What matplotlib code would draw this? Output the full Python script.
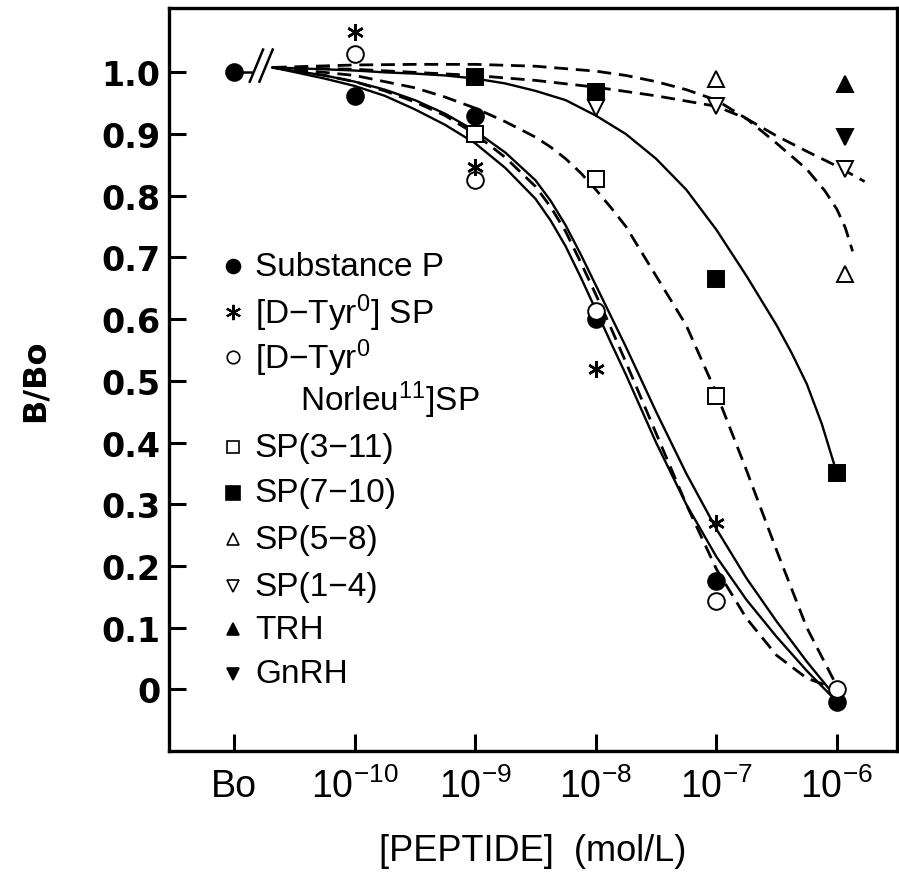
import numpy as np
import matplotlib
matplotlib.use('Agg')
import matplotlib.pyplot as plt

plt.rcParams['font.family'] = ['Liberation Sans', 'DejaVu Sans']
plt.rcParams['mathtext.fontset'] = 'custom'
plt.rcParams['mathtext.rm'] = 'Liberation Sans'
plt.rcParams['mathtext.it'] = 'Liberation Sans:italic'
plt.rcParams['mathtext.bf'] = 'Liberation Sans:bold'

# concentrations as log10(mol/L); Bo is drawn one decade below 1e-10
bo_exp = -11
tick_exp = [-11, -10, -9, -8, -7, -6]
tick_labels = ['Bo', '$10^{-10}$', '$10^{-9}$', '$10^{-8}$', '$10^{-7}$', '$10^{-6}$']
yticks = [0, 0.1, 0.2, 0.3, 0.4, 0.5, 0.6, 0.7, 0.8, 0.9, 1.0]
ytick_labels = ['0', '0.1', '0.2', '0.3', '0.4', '0.5', '0.6', '0.7', '0.8', '0.9', '1.0']

# measured points
sp_x = [-11, -10, -9, -8, -7, -6]
sp_y = [1.0, 0.961, 0.929, 0.600, 0.175, -0.020]
dtyr_x = [-10, -9, -8, -7]
dtyr_y = [1.065, 0.846, 0.520, 0.270]
norleu_x = [-10, -9, -8, -7, -6]
norleu_y = [1.029, 0.826, 0.613, 0.143, 0.000]
sp311_x = [-9, -8, -7]
sp311_y = [0.900, 0.827, 0.475]
sp710_x = [-9, -8, -7, -6]
sp710_y = [0.992, 0.969, 0.665, 0.350]
sp58_x = [-7, -5.93]
sp58_y = [0.989, 0.673]
sp14_x = [-8, -7, -5.93]
sp14_y = [0.943, 0.945, 0.843]
trh_x = [-5.93]
trh_y = [0.981]
gnrh_x = [-5.93]
gnrh_y = [0.895]

# fitted curves
cx = [-10.68, -10.25, -10.0, -9.75, -9.5, -9.25, -9.0, -8.75, -8.5, -8.375, -8.25,
      -8.125, -8.0, -7.875, -7.75, -7.5, -7.25, -7.0, -6.75, -6.5, -6.25, -6.0]
fit_sp = [1.008, 0.990, 0.978, 0.962, 0.940, 0.915, 0.885, 0.845, 0.795, 0.760, 0.718,
          0.668, 0.615, 0.562, 0.510, 0.400, 0.300, 0.215, 0.145, 0.085, 0.030, -0.020]
fit_dtyr = [1.008, 0.995, 0.985, 0.972, 0.955, 0.933, 0.905, 0.870, 0.825, 0.792, 0.752,
            0.705, 0.655, 0.605, 0.555, 0.450, 0.350, 0.260, 0.180, 0.110, 0.045, -0.015]
fit_norleu = [1.008, 0.995, 0.985, 0.970, 0.952, 0.930, 0.900, 0.862, 0.815, 0.782, 0.742,
              0.692, 0.640, 0.586, 0.530, 0.415, 0.300, 0.195, 0.115, 0.055, 0.018, 0.000]
fit_sp311 = [1.008, 1.000, 0.995, 0.985, 0.975, 0.960, 0.942, 0.920, 0.895, 0.879, 0.860,
             0.837, 0.810, 0.781, 0.750, 0.670, 0.590, 0.480, 0.355, 0.225, 0.100, 0.005]
cx710 = [-10.68, -10.25, -10.0, -9.75, -9.5, -9.25, -9.0, -8.75, -8.5, -8.25, -8.0,
         -7.75, -7.5, -7.25, -7.0, -6.75, -6.5, -6.375, -6.25, -6.125, -6.0]
fit_sp710 = [1.008, 1.005, 1.003, 1.000, 0.998, 0.995, 0.990, 0.982, 0.970, 0.955, 0.930,
             0.900, 0.860, 0.810, 0.745, 0.670, 0.590, 0.545, 0.495, 0.430, 0.350]
cx58 = [-10.68, -10.0, -9.5, -9.0, -8.5, -8.0, -7.75, -7.5, -7.25, -7.0, -6.75,
        -6.5, -6.25, -6.1, -6.0, -5.93, -5.87]
fit_sp58 = [1.008, 1.012, 1.013, 1.013, 1.010, 1.002, 0.995, 0.985, 0.972, 0.955,
            0.925, 0.885, 0.843, 0.808, 0.778, 0.748, 0.710]
cx14 = [-10.68, -10.0, -9.5, -9.0, -8.5, -8.0, -7.5, -7.0, -6.75, -6.5, -6.25,
        -6.0, -5.77]
fit_sp14 = [1.008, 1.005, 1.000, 0.995, 0.987, 0.976, 0.962, 0.945, 0.925, 0.897,
            0.872, 0.848, 0.823]

legend_rows = [0.686, 0.611, 0.538, 0.470, 0.392, 0.319, 0.243, 0.167, 0.097, 0.025]


def c(e):
    return 10.0 ** np.asarray(e, dtype=float)


fig = plt.figure(figsize=(8.99, 8.78), dpi=100)
ax = fig.add_axes([0.188, 0.1435, 0.81, 0.846])
ax.set_xscale('log')
ax.set_xlim(10 ** -11.54, 10 ** -5.50)
ax.set_ylim(-0.10, 1.104)

lw = 1.7
dash = (5, 2.8)
ax.plot(c(cx), fit_sp, 'k-', lw=lw)
ax.plot(c(cx), fit_dtyr, 'k-', lw=lw)
ax.plot(c(cx), fit_norleu, 'k--', lw=lw + 0.3, dashes=dash)
ax.plot(c(cx), fit_sp311, 'k--', lw=lw + 0.3, dashes=dash)
ax.plot(c(cx710), fit_sp710, 'k-', lw=lw)
ax.plot(c(cx58), fit_sp58, 'k--', lw=lw + 0.3, dashes=dash)
ax.plot(c(cx14), fit_sp14, 'k--', lw=lw + 0.3, dashes=dash)

# axis break between Bo and the dose range
ax.plot(c([bo_exp, -10.86]), [1.0, 1.0], 'k-', lw=1.8)
for x0 in (-10.87, -10.79):
    ax.plot(c([x0, x0 + 0.11]), [0.985, 1.037], 'k-', lw=1.8)

ms = 12
mew = 1.4
ax.plot(c(sp_x), sp_y, 'o', ms=ms, mfc='k', mec='k', mew=mew, ls='none', zorder=5)
ax.plot(c(norleu_x), norleu_y, 'o', ms=ms, mfc='white', mec='k', mew=mew, ls='none', zorder=5)
ax.plot(c(dtyr_x), dtyr_y, marker=(6, 2, 0), ms=ms, mec='k', mew=1.8, ls='none', zorder=6)
ax.plot(c(sp311_x), sp311_y, 's', ms=ms, mfc='white', mec='k', mew=mew, ls='none', zorder=5)
ax.plot(c(sp710_x), sp710_y, 's', ms=ms, mfc='k', mec='k', mew=mew, ls='none', zorder=5)
ax.plot(c(sp58_x), sp58_y, '^', ms=ms, mfc='white', mec='k', mew=mew, ls='none', zorder=5)
ax.plot(c(sp14_x), sp14_y, 'v', ms=ms, mfc='white', mec='k', mew=mew, ls='none', zorder=5)
ax.plot(c(trh_x), trh_y, '^', ms=ms, mfc='k', mec='k', mew=mew, ls='none', zorder=5)
ax.plot(c(gnrh_x), gnrh_y, 'v', ms=ms, mfc='k', mec='k', mew=mew, ls='none', zorder=5)

# hand-made legend
tr = ax.get_yaxis_transform()
mx = 0.088
tx = 0.118
fs = 24
leg_markers = [dict(marker='o', mfc='k', ms=10),
               dict(marker=(6, 2, 0), mfc='k', ms=11, mew=1.6),
               dict(marker='o', mfc='white', ms=9),
               None,
               dict(marker='s', mfc='white', ms=9),
               dict(marker='s', mfc='k', ms=10),
               dict(marker='^', mfc='white', ms=9),
               dict(marker='v', mfc='white', ms=9),
               dict(marker='^', mfc='k', ms=9),
               dict(marker='v', mfc='k', ms=9)]
leg_texts = ['Substance P',
             '[D\u2212Tyr$^{0}$] SP',
             '[D\u2212Tyr$^{0}$',
             'Norleu$^{11}$]SP',
             'SP(3\u221211)',
             'SP(7\u221210)',
             'SP(5\u22128)',
             'SP(1\u22124)',
             'TRH',
             'GnRH']
for yv, mk, txt in zip(legend_rows, leg_markers, leg_texts):
    if mk is not None:
        kw = dict(mec='k', mew=1.2)
        kw.update(mk)
        ax.plot([mx], [yv], ls='none', transform=tr, clip_on=False, **kw)
        ax.text(tx, yv, txt, transform=tr, fontsize=fs, va='center', ha='left')
    else:
        ax.text(0.18, yv, txt, transform=tr, fontsize=fs, va='center', ha='left')

ax.set_xticks(c(tick_exp))
ax.set_xticklabels(tick_labels)
ax.xaxis.set_minor_locator(matplotlib.ticker.NullLocator())
ax.set_yticks(yticks)
ax.set_yticklabels(ytick_labels, fontfamily='DejaVu Sans', fontweight='bold', fontsize=24)
for lab in ax.get_xticklabels():
    lab.set_fontsize(27)

ax.tick_params(axis='both', direction='in', width=2.2, length=12, color='k')
ax.tick_params(axis='y', pad=6)
ax.tick_params(axis='x', pad=12)
for s in ax.spines.values():
    s.set_linewidth(2.4)

ax.set_ylabel('B/Bo', fontfamily='DejaVu Sans', fontweight='bold', fontsize=23)
ax.yaxis.set_label_coords(-0.162, 0.5)
ax.set_xlabel('[PEPTIDE]  (mol/L)', fontsize=26)
ax.xaxis.set_label_coords(0.5, -0.11)

fig.savefig('out.png', dpi=100, facecolor='white')
